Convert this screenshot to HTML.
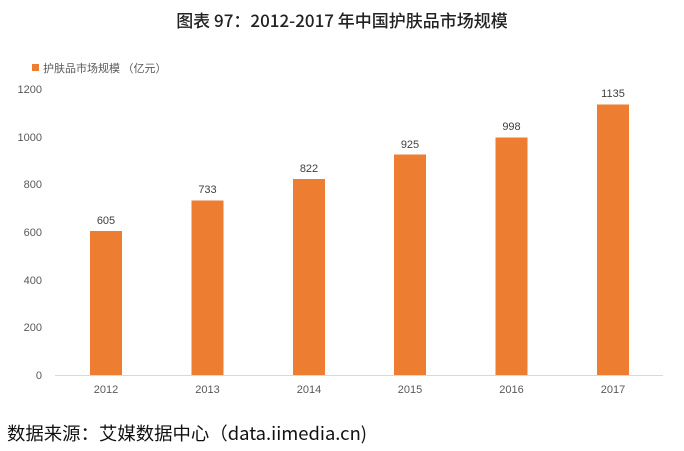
<!DOCTYPE html>
<html><head><meta charset="utf-8"><style>
body{margin:0;background:#fff;}
svg{display:block;font-family:"Liberation Sans","Noto Sans CJK SC",sans-serif;}
</style></head><body>
<svg width="684" height="451" viewBox="0 0 684 451" xmlns="http://www.w3.org/2000/svg">
<text x="342" y="27" text-anchor="middle" font-size="17" fill="#222" font-weight="500" font-family="Noto Sans CJK SC,sans-serif">图表 97：2012-2017 年中国护肤品市场规模</text>
<rect x="32" y="64" width="7" height="7" fill="#ED7D31"/>
<text x="43" y="72" font-size="11" fill="#595959" font-family="Noto Sans CJK SC,sans-serif">护肤品市场规模 （亿元）</text>
<g font-size="11" fill="#595959" text-anchor="end">
<text x="42" y="93">1200</text><text x="42" y="141">1000</text><text x="42" y="188">800</text>
<text x="42" y="236">600</text><text x="42" y="284">400</text><text x="42" y="331">200</text><text x="42" y="379">0</text>
</g>
<line x1="55" y1="375.5" x2="663" y2="375.5" stroke="#d9d9d9" stroke-width="1"/>
<g fill="#ED7D31">
<rect x="90" y="231" width="32" height="144"/>
<rect x="191.5" y="200.5" width="32" height="174.5"/>
<rect x="293" y="179" width="32" height="196"/>
<rect x="394" y="154.5" width="32" height="220.5"/>
<rect x="495.5" y="137.5" width="32" height="237.5"/>
<rect x="597" y="104.5" width="32" height="270.5"/>
</g>
<g font-size="11" fill="#404040" text-anchor="middle">
<text x="106" y="224">605</text><text x="207.5" y="193">733</text><text x="309" y="172">822</text>
<text x="410" y="148">925</text><text x="511.5" y="130">998</text><text x="613" y="97">1135</text>
</g>
<g font-size="11" fill="#595959" text-anchor="middle">
<text x="106" y="393">2012</text><text x="207.5" y="393">2013</text><text x="309" y="393">2014</text>
<text x="410" y="393">2015</text><text x="511.5" y="393">2016</text><text x="613" y="393">2017</text>
</g>
<text x="7" y="440" font-size="18" fill="#111" font-family="Noto Sans CJK SC,sans-serif" textLength="360" lengthAdjust="spacingAndGlyphs">数据来源：艾媒数据中心（data.iimedia.cn)</text>
</svg>
</body></html>
